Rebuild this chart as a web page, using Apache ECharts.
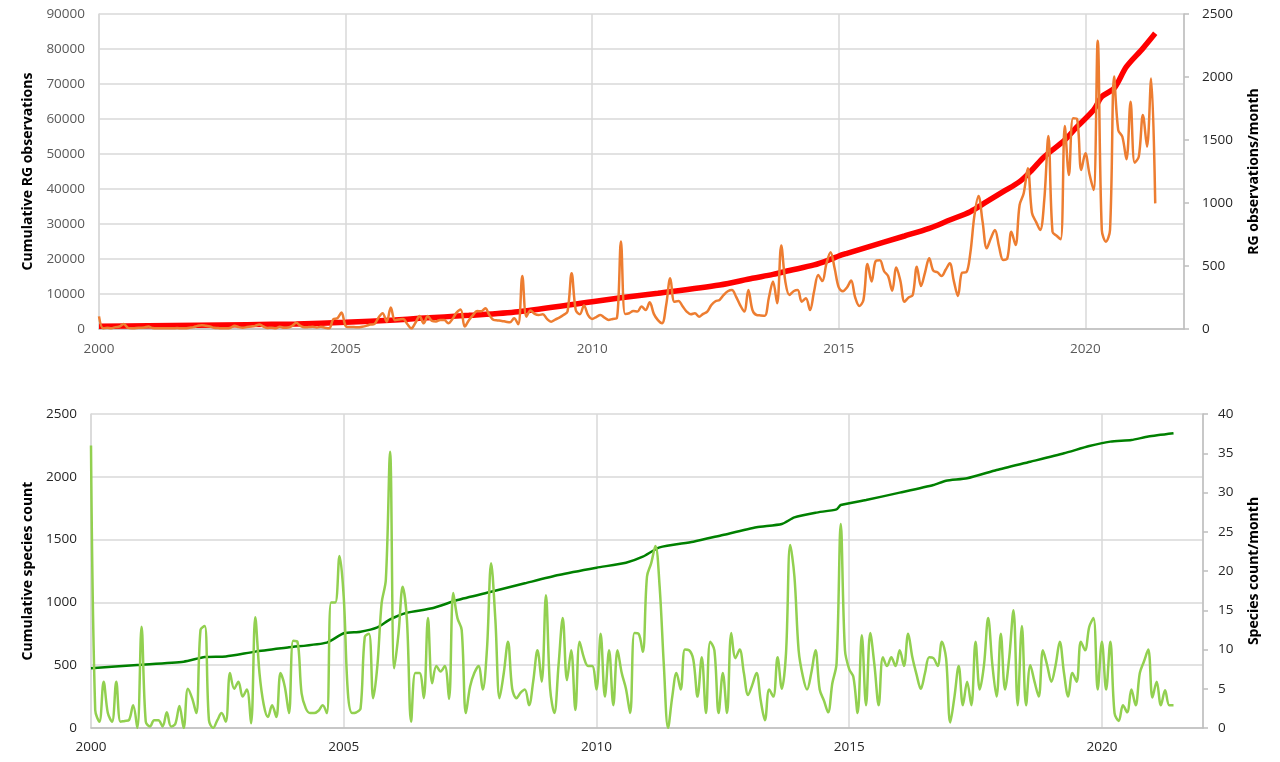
<!DOCTYPE html>
<html>
<head>
<meta charset="utf-8">
<script src="https://cdn.jsdelivr.net/npm/echarts@6/dist/echarts.min.js"></script>
<style>
html,body{margin:0;padding:0;background:#fff;}
#chart{width:1280px;height:762px;}
</style>
</head>
<body>
<div id="chart"></div>
<script>
// ---- DATA (monthly from Jan 2000, index 0 = Jan 2000) ----
const startYear = 2000;
const xTickLabels = [2000, 2005, 2010, 2015, 2020];

// RG observations per month (right axis, top panel)
const rgMonthly = [
  100,5,10,5,15,20,40,10,5,8,10,12,
  20,8,5,5,5,5,5,8,5,5,10,15,
  25,30,25,20,10,8,5,5,10,25,15,10,
  15,20,25,35,20,8,10,5,18,10,12,25,
  50,25,13,15,18,12,18,10,5,77,85,130,
  25,15,15,13,18,25,35,40,90,125,58,170,
  70,75,80,40,5,50,103,45,103,64,60,72,
  72,45,80,130,155,19,70,110,143,140,164,110,
  72,68,64,58,53,85,37,421,98,146,120,111,
  117,80,58,75,90,111,138,443,151,117,186,110,
  80,95,111,90,72,80,85,694,120,125,143,138,
  178,151,212,120,70,45,191,403,217,223,180,138,
  117,125,98,120,138,190,220,231,270,300,310,257,
  190,138,310,150,111,108,106,250,376,204,663,376,
  270,300,310,217,244,151,300,429,380,520,610,480,
  330,300,330,384,250,183,230,516,376,540,545,460,
  420,304,489,380,217,250,270,495,341,450,561,463,
  450,420,470,521,380,262,447,450,600,900,1056,850,
  640,720,786,653,548,560,772,667,984,1077,1275,923,
  850,786,1024,1532,772,740,712,1611,1222,1672,1664,1262,
  1394,1230,1103,2288,786,693,786,2003,1579,1526,1347,1804,
  1320,1368,1698,1447,1989,997
];

// Cumulative RG observations (left axis, top panel), read at these month indices
const rgCumMonth = [0,12,24,36,48,60,72,78,90,102,120,127,136,151,159,164,168,174,178,180,182,186,196,202,207,212,216,220,224,227,230,235,238,242,244,247,250,254,257];
const rgCumValue = [800,950,1100,1250,1450,1900,2600,3050,3900,4950,7800,8900,10200,12570,14480,15600,16700,18300,19900,20860,21620,23050,26570,28760,31140,33520,36380,39240,42100,45430,49240,54000,57810,62570,66380,68760,74950,80190,84480];

// Species count per month (right axis, bottom panel)
const spMonthly = [
  36,2.3,0.8,5.9,1.9,0.8,5.9,0.8,0.9,1.0,2.9,0,
  12.9,0.8,0.2,1.0,1.0,0.2,2.0,0.2,0.5,2.8,0,5.0,
  3.8,1.9,12.5,13,1.0,0,1.0,1.9,0.8,7.0,5.0,5.9,
  4.0,4.9,0.6,14.1,7.0,3.0,1.4,2.9,1.4,7.0,5.3,1.9,
  11.1,11.0,4.4,2.5,1.9,1.9,2.2,2.9,1.9,16,16,21.9,
  16.7,4.4,1.9,2.0,2.5,11.6,12,3.8,8,15.9,18.9,35.2,
  7.6,12,18,13.8,0.8,7.0,7.0,3.8,14,5.7,7.9,7.2,
  7.9,3.7,17.2,14,12.5,1.9,5.3,7,7.9,4.9,10,21,
  13.8,3.8,7,11,5,3.8,4.5,4.9,2.9,6,9.9,5.9,
  16.9,5,1.9,8,14,6.1,9.9,2.3,11,9,7.9,7.9,
  4.9,12,4,9.9,2.9,9.9,7,5,1.9,12.1,12,9.7,
  19.3,21,23.2,18,8,0,4,7,4.9,10,9.9,8.7,
  4,9,1.9,11,9.9,1.9,7,1.9,12.1,8.9,10,7,
  4.2,5.5,7,3.5,1,4.9,4,9,5,9.5,23.3,19.3,
  9.9,6.6,4.9,7,9.9,4.9,3.5,2,5.7,8.2,26,9.9,
  7.5,6.5,1.9,11.8,2.9,12.1,8,2.9,9,7.9,9,7.9,
  9.9,7.9,12,9,6.8,5,7,9,8.9,7.9,11,8.9,
  0.7,4,7.9,2.9,5.9,2.9,11,4.9,8,14,8,4,
  12,4.9,9,15,2.9,13,2.9,8,5.9,4,9.9,8,
  5.9,8,11,7,4,7,5.9,11,9.9,12.9,14,4.9,
  11,4.9,11,1.9,0.9,2.9,2,4.9,2.9,7,8.5,10,
  3.9,5.9,2.9,4.8,2.9,2.9
];

// Cumulative species count (left axis, bottom panel), read at these month indices
const spCumMonth = [0,11,22,27,32,39,47,56,60,64,68,71,75,81,87,95,103,111,120,127,131,135,143,150,158,164,167,172,177,178,184,192,200,203,208,215,223,231,237,242,247,251,257];
const spCumValue = [475,502,528,565,570,608,642,680,754,767,801,865,918,953,1019,1085,1152,1218,1276,1316,1364,1438,1483,1537,1598,1624,1677,1714,1741,1775,1815,1874,1935,1969,1988,2054,2120,2187,2245,2280,2293,2320,2346];

// ---- BUILD ----
const toX = m => startYear + m / 12;
const monthlyPairs = arr => arr.map((v, i) => [toX(i), v]);
const cumPairs = (ms, vs) => ms.map((m, i) => [toX(m), vs[i]]);

const FONT = 'Open Sans';
const GRID = '#D9D9D9';
const AXIS = '#BFBFBF';

function xAxis(gridIndex, labelColor, margin) {
  return {
    type: 'value', gridIndex, min: 2000, max: 2022, interval: 5,
    axisLine: { show: true, lineStyle: { color: AXIS, width: 1.5 } },
    axisTick: { show: false },
    axisLabel: {
      color: labelColor, fontFamily: FONT, fontSize: 13.5, margin,
      formatter: v => xTickLabels.indexOf(v) >= 0 ? String(v) : ''
    },
    splitLine: { show: true, lineStyle: { color: GRID, width: 1.5 } }
  };
}
function yLeft(gridIndex, max, interval, name, gap, labelColor) {
  return {
    type: 'value', gridIndex, position: 'left', min: 0, max, interval,
    axisLine: { show: true, lineStyle: { color: GRID, width: 1.5 } },
    axisTick: { show: false },
    axisLabel: { color: labelColor, fontFamily: FONT, fontSize: 13.5, margin: 14, formatter: v => String(v) },
    splitLine: { show: true, lineStyle: { color: GRID, width: 1.5 } },
    name, nameLocation: 'middle', nameGap: gap,
    nameTextStyle: { fontFamily: FONT, fontWeight: 'bold', fontSize: 14, color: '#000' }
  };
}
function yRight(gridIndex, max, interval, name, gap, margin, labelColor) {
  return {
    type: 'value', gridIndex, position: 'right', min: 0, max, interval,
    axisLine: { show: true, lineStyle: { color: AXIS, width: 1.5 } },
    axisTick: { show: true, length: 5, inside: false, lineStyle: { color: AXIS, width: 1.5 } },
    axisLabel: { color: labelColor, fontFamily: FONT, fontSize: 13.5, margin, formatter: v => String(v) },
    splitLine: { show: false },
    name, nameLocation: 'middle', nameGap: gap,
    nameTextStyle: { fontFamily: FONT, fontWeight: 'bold', fontSize: 14, color: '#000' }
  };
}

const chart = echarts.init(document.getElementById('chart'), null, { renderer: 'canvas' });
chart.setOption({
  animation: false,
  backgroundColor: '#fff',
  grid: [
    { left: 99, right: 96, top: 14, height: 315 },
    { left: 91, right: 77, top: 414, height: 314 }
  ],
  xAxis: [ xAxis(0, '#595959', 13), xAxis(1, '#262626', 12) ],
  yAxis: [
    yLeft(0, 90000, 10000, 'Cumulative RG observations', 59, '#595959'),
    yRight(0, 2500, 500, 'RG observations/month', 63, 18, '#262626'),
    yLeft(1, 2500, 500, 'Cumulative species count', 53, '#262626'),
    yRight(1, 40, 5, 'Species count/month', 44, 15, '#262626')
  ],
  series: [
    { type: 'line', name: 'Cumulative RG observations', xAxisIndex: 0, yAxisIndex: 0,
      data: cumPairs(rgCumMonth, rgCumValue), showSymbol: false, smooth: 0.3,
      lineStyle: { color: '#FF0000', width: 5.5 }, z: 2 },
    { type: 'line', name: 'RG observations/month', xAxisIndex: 0, yAxisIndex: 1,
      data: monthlyPairs(rgMonthly), showSymbol: false, smooth: 0.35,
      lineStyle: { color: '#ED7D31', width: 2.5 }, z: 3 },
    { type: 'line', name: 'Cumulative species count', xAxisIndex: 1, yAxisIndex: 2,
      data: cumPairs(spCumMonth, spCumValue), showSymbol: false, smooth: 0.2,
      lineStyle: { color: '#008000', width: 2.5 }, z: 2 },
    { type: 'line', name: 'Species count/month', xAxisIndex: 1, yAxisIndex: 3,
      data: monthlyPairs(spMonthly), showSymbol: false, smooth: 0.35,
      lineStyle: { color: '#92D050', width: 2.5 }, z: 3 }
  ]
});
</script>
</body>
</html>
